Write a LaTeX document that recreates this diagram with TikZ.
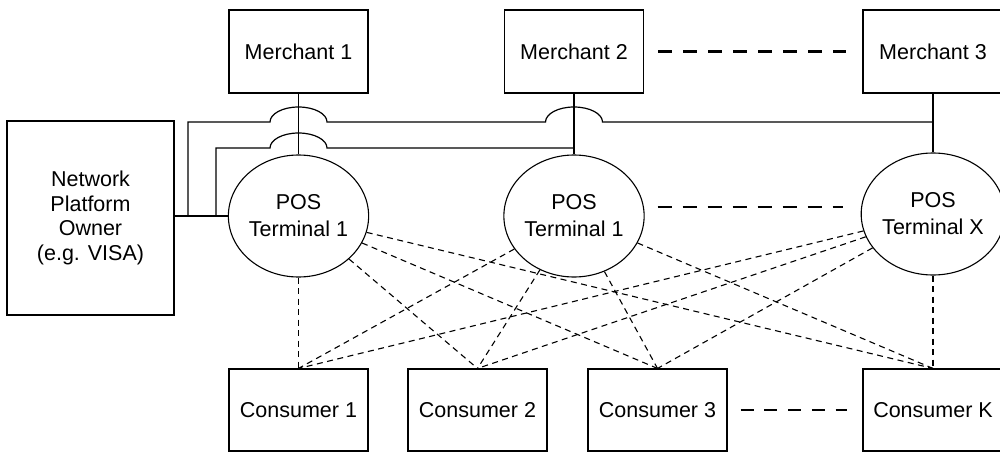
\documentclass[tikz,border=0pt]{standalone}
\usepackage{fontspec}
\setmainfont{Liberation Sans}
\usetikzlibrary{shapes.geometric,calc}
\begin{document}
\begin{tikzpicture}[x=1pt,y=-1pt,
  font=\fontsize{21.5}{24.5}\selectfont,
  box/.style={draw,line width=1.1pt,rectangle,inner sep=0pt,minimum width=139pt,minimum height=83pt,align=center},
  term/.style={draw,line width=1.1pt,ellipse,inner sep=0pt,minimum width=140pt,minimum height=122pt,align=center,font=\fontsize{21.5}{27}\selectfont},
  wire/.style={line width=1.2pt},
  fine/.style={line width=1.1pt,dash pattern=on 6pt off 4.5pt},
  bigdash/.style={line width=2.2pt,dash pattern=on 14pt off 11pt},
  meddash/.style={line width=1.8pt,dash pattern=on 13pt off 10.75pt}]
\useasboundingbox (0,0) rectangle (1000,452);
% nodes
\node[box,minimum width=167pt,minimum height=194pt] (net) at (90.5,218) {Network\\Platform\\Owner\\(e.g. VISA)};
\node[box] (m1) at (298.5,51.5) {Merchant 1};
\node[box] (m2) at (574,51.5) {Merchant 2};
\node[box,minimum width=140pt] (m3) at (933,51.5) {Merchant 3};
\node[term] (t1) at (298.5,216) {POS\\Terminal 1};
\node[term] (t2) at (574,216) {POS\\Terminal 1};
\node[term,minimum width=136pt] (t3) at (933,214) {POS\\Terminal X};
\node[box,minimum height=82pt] (c1) at (298.5,410) {Consumer 1};
\node[box,minimum height=82pt] (c2) at (477.5,410) {Consumer 2};
\node[box,minimum height=82pt] (c3) at (657.5,410) {Consumer 3};
\node[box,minimum height=82pt,minimum width=140pt] (c4) at (933,410) {Consumer K};
% solid links
\draw[wire] (m1) -- (t1);
\draw[wire] (m2) -- (t2);
\draw[wire] (m3) -- (t3);
\draw[wire] (net.east |- t1.west) -- (t1.west);
\coordinate (j1) at (188,216);
\coordinate (j2) at (216,216);
\draw[wire] (j1) |- (270,122) arc[start angle=180,end angle=0,x radius=28.5pt,y radius=15pt]
  -- (545.5,122) arc[start angle=180,end angle=0,x radius=28.5pt,y radius=15pt]
  -- (m3.south |- 0,122);
\draw[wire] (j2) |- (270,148) arc[start angle=180,end angle=0,x radius=28.5pt,y radius=15pt]
  -- (t2.north |- 0,148);
% terminal to consumer links
\foreach \t in {t1,t2,t3}{
  \foreach \c in {c1,c2,c3,c4}{
    \draw[fine] (\t) -- (\c.north);
  }
}
% ellipsis dashes
\draw[bigdash] ([xshift=14pt]m2.east) -- ([xshift=-16pt]m3.west);
\draw[bigdash] ([xshift=13pt,yshift=9pt]t2.east) -- ([xshift=-18pt,yshift=7pt]t3.west);
\draw[meddash] ([xshift=13pt]c3.east) -- ([xshift=-15pt]c4.west);
\end{tikzpicture}
\end{document}
